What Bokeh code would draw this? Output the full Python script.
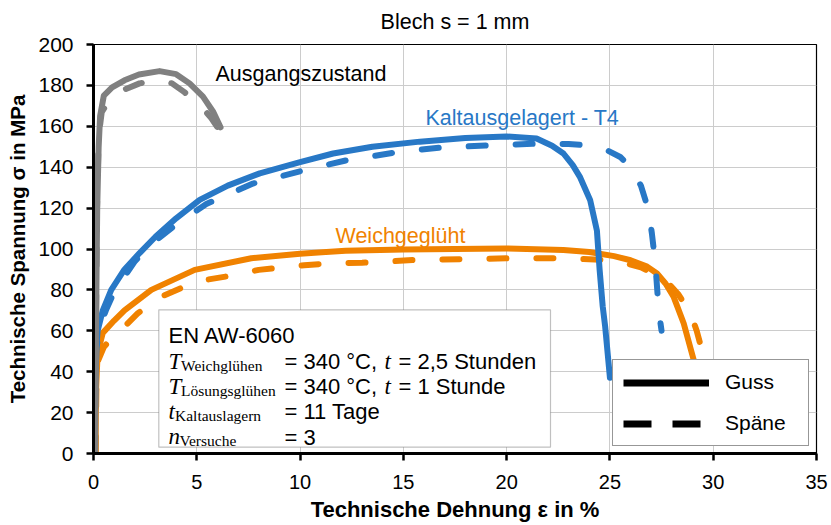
import math
from bokeh.plotting import figure
from bokeh.models import (Range1d, FixedTicker, BoxAnnotation, Label, Legend, LegendItem,
                          ColumnDataSource)
from bokeh.embed import file_html
from bokeh.resources import INLINE

# ---------------- data ----------------
# Ausgangszustand (grey)
ausgang_guss_x = [0.08, 0.12, 0.18, 0.25, 0.32, 0.5, 0.9, 1.5, 2.2, 3.2, 4.0, 4.65, 5.3, 5.8, 6.15]
ausgang_guss_y = [0, 60, 120, 150, 165, 175, 179, 182.5, 185.3, 187, 185.5, 181, 174.5, 167, 159.5]
ausgang_spaene_x = [0.08, 0.12, 0.17, 0.25, 0.4, 0.86, 1.5, 2.23, 3.2, 3.8, 4.4, 5.2, 5.7, 6.1, 6.25]
ausgang_spaene_y = [0, 60, 120, 155, 167, 174, 178, 181, 182.4, 181, 176.7, 170, 164, 158, 152]

# Kaltausgelagert - T4 (blue)
t4_guss_x = [0.05, 0.08, 0.12, 0.2, 0.45, 0.86, 1.5, 2.23, 3.0, 4.0, 5.14, 6.5, 8.05, 10, 11.6,
             13.5, 15.8, 18, 20, 21.45, 22.2, 22.75, 23.2, 23.56, 24.04, 24.37, 24.5, 24.65, 24.77, 25.0]
t4_guss_y = [0, 30, 50, 60, 70, 80, 90, 98, 106, 115, 124, 131, 137, 142.5, 146.7,
             150, 152.5, 154.3, 155, 154, 150.5, 146.7, 141, 135, 124, 109, 90, 72, 62, 37]
t4_spaene_x = [0.05, 0.08, 0.15, 0.3, 0.6, 1.0, 2.0, 3.0, 4.0, 5.46, 7.72, 10, 12.25, 14.8, 16.8,
               19.2, 21.45, 23.0, 23.9, 24.85, 25.5, 26.0, 26.5, 26.87, 27.03, 27.2, 27.36, 27.5]
t4_spaene_y = [0, 30, 52, 62, 70, 79, 94, 104, 112, 122, 132, 138, 143.4, 147.5, 149.6,
               150.7, 151.5, 151.3, 150.7, 148.3, 145, 140, 131, 119, 107.7, 93, 70, 60]

# Weichgeglüht (orange)
weich_guss_x = [0.1, 0.12, 0.2, 0.45, 1.0, 1.5, 2.8, 4.9, 7.64, 10, 12.2, 15, 20, 22.75, 24,
                25.2, 26.0, 26.8, 27.28, 27.7, 28.08, 28.57, 29.05, 29.2]
weich_guss_y = [0, 30, 49, 59, 65, 70, 80, 89.8, 95.5, 97.7, 99.2, 99.8, 100.3, 99.5, 98.5,
                96.5, 94.5, 91.4, 88, 83, 76.7, 63.7, 46, 38]
weich_spaene_x = [0.1, 0.15, 0.25, 0.5, 1.0, 1.5, 2.15, 3.28, 4.4, 5.5, 6.7, 8, 9.1, 10.2, 11.4,
                  13, 15.5, 17.9, 20.3, 22.7, 25.2, 26.5, 27.6, 28.3, 28.9, 29.2, 29.45, 29.55]
weich_spaene_y = [0, 38, 46, 52, 58, 62, 68.6, 76.7, 81.6, 85, 87, 89.8, 91, 92, 93,
                  93.3, 94.6, 95, 95.5, 95.5, 94.5, 91, 85.7, 78, 68.6, 60, 50.7, 45]

x_ticks = [0, 5, 10, 15, 20, 25, 30, 35]
y_ticks = [0, 20, 40, 60, 80, 100, 120, 140, 160, 180, 200]

GREY = "#808080"
BLUE = "#2878C6"
ORANGE = "#F08200"
SANS = "Liberation Sans"
SERIF = "Liberation Serif"

# frame placement on the canvas (pixels)
W, H = 828, 524
FL, FR, FT, FB = 93, 816, 44, 454


def X(px):
    return (px - FL) * 35.0 / (FR - FL)


def Y(py):
    return (FB - py) * 200.0 / (FB - FT)


p = figure(width=W, height=H, output_backend="svg", toolbar_location=None,
           x_range=Range1d(0, 35), y_range=Range1d(0, 200),
           min_border_left=FL, min_border_right=W - FR, min_border_top=FT,
           min_border_bottom=H - FB)
p.background_fill_color = "white"
p.border_fill_color = "white"
p.outline_line_color = "black"
p.outline_line_width = 1.2

p.title.text = "Blech s = 1 mm"
p.title.text_font = SANS
p.title.text_font_size = "21.5px"
p.title.text_font_style = "normal"
p.title.text_color = "black"
p.title.align = "center"
p.title.vertical_align = "top"
p.title.standoff = 17

for ax in (p.xaxis[0], p.yaxis[0]):
    ax.axis_line_width = 3
    ax.axis_line_color = "black"
    ax.major_tick_line_width = 2.5
    ax.major_tick_line_color = "black"
    ax.major_tick_out = 7
    ax.major_tick_in = 0
    ax.minor_tick_out = 0
    ax.minor_tick_in = 0
    ax.major_label_text_font = SANS
    ax.major_label_text_color = "black"
    ax.axis_label_text_font = SANS
    ax.axis_label_text_font_style = "bold"
    ax.axis_label_text_color = "black"
p.xaxis.ticker = FixedTicker(ticks=x_ticks)
p.yaxis.ticker = FixedTicker(ticks=y_ticks)
p.xaxis.major_label_text_font_size = "20px"
p.yaxis.major_label_text_font_size = "21px"
p.xaxis.major_label_standoff = 14
p.yaxis.major_label_standoff = 13
p.xaxis.axis_label = "Technische Dehnung ε in %"
p.xaxis.axis_label_text_font_size = "22px"
p.xaxis.axis_label_standoff = 5
p.yaxis.axis_label = "Technische Spannung σ in MPa"
p.yaxis.axis_label_text_font_size = "20.5px"
p.yaxis.axis_label_standoff = 6
p.xgrid.ticker = FixedTicker(ticks=x_ticks)
p.ygrid.ticker = FixedTicker(ticks=y_ticks)
for g in (p.xgrid[0], p.ygrid[0]):
    g.grid_line_color = "#CCCCCC"
    g.grid_line_width = 1

LW = 6
DASH = "17 30"
common = dict(line_width=LW, line_cap="round", line_join="round")
p.line(weich_guss_x, weich_guss_y, line_color=ORANGE, **common)
p.line(weich_spaene_x, weich_spaene_y, line_color=ORANGE, line_dash=DASH, **common)
p.line(t4_guss_x, t4_guss_y, line_color=BLUE, **common)
p.line(t4_spaene_x, t4_spaene_y, line_color=BLUE, line_dash=DASH, **common)
p.line(ausgang_guss_x, ausgang_guss_y, line_color=GREY, **common)
p.line(ausgang_spaene_x, ausgang_spaene_y, line_color=GREY, line_dash=DASH, **common)


def lab(px, py, text, font=SANS, size="21.5px", style="normal", color="black"):
    p.add_layout(Label(x=X(px), y=Y(py), text=text, text_font=font, text_font_size=size,
                       text_font_style=style, text_color=color, text_baseline="alphabetic",
                       text_align="left"))


# curve labels
lab(215, 74, "Ausgangszustand")
lab(425, 117.3, "Kaltausgelagert - T4", color=BLUE)
lab(335, 235.7, "Weichgeglüht", color=ORANGE)

# info box
p.add_layout(BoxAnnotation(left=X(158.3), right=X(550), top=Y(310), bottom=Y(447.7),
                           fill_color="white", fill_alpha=1.0, line_color="#303030",
                           line_width=1.2))
BS = "22px"
IS = "23px"
SS = "15.5px"
lab(168, 335.7, "EN AW-6060", size=BS)
lab(168, 361.7, "T", font=SERIF, size=IS, style="italic")
lab(180.5, 365.5, "Weichglühen", font=SERIF, size=SS)
lab(284, 361.7, "= 340 °C,", size=BS)
lab(384, 361.7, "t", font=SERIF, size=IS, style="italic")
lab(398, 361.7, "= 2,5 Stunden", size=BS)
lab(168, 387.3, "T", font=SERIF, size=IS, style="italic")
lab(180.5, 391, "Lösungsglühen", font=SERIF, size=SS)
lab(284, 387.3, "= 340 °C,", size=BS)
lab(384, 387.3, "t", font=SERIF, size=IS, style="italic")
lab(398, 387.3, "= 1 Stunde", size=BS)
lab(168, 411.7, "t", font=SERIF, size=IS, style="italic")
lab(174.5, 415.5, "Kaltauslagern", font=SERIF, size=SS)
lab(284, 411.7, "= 11 Tage", size=BS)
lab(168, 436.7, "n", font=SERIF, size=IS, style="italic")
lab(179, 440.5, "Versuche", font=SERIF, size=SS)
lab(284, 437.5, "= 3", size=BS)

# legend (sample renderers carry no visible data)
nan = float("nan")
legend_src = ColumnDataSource(data=dict(x=[nan, nan], y=[nan, nan]))
r_solid = p.line("x", "y", source=legend_src, line_color="black", line_width=7, line_cap="butt")
r_dash = p.line("x", "y", source=legend_src, line_color="black", line_width=7, line_cap="butt",
                line_dash="28 21")
legend = Legend(items=[LegendItem(label="Guss", renderers=[r_solid]),
                       LegendItem(label="Späne", renderers=[r_dash])],
                location=(612 - FL, FB - 447), margin=0, padding=10, spacing=17,
                glyph_width=86, glyph_height=23, label_standoff=16, label_width=73,
                label_height=23, border_line_color="#303030", border_line_width=1.2,
                background_fill_color="white", background_fill_alpha=1.0,
                label_text_font=SANS, label_text_font_size="21px", label_text_color="black")
p.add_layout(legend)

open("out.html", "w").write(file_html(p, INLINE))
